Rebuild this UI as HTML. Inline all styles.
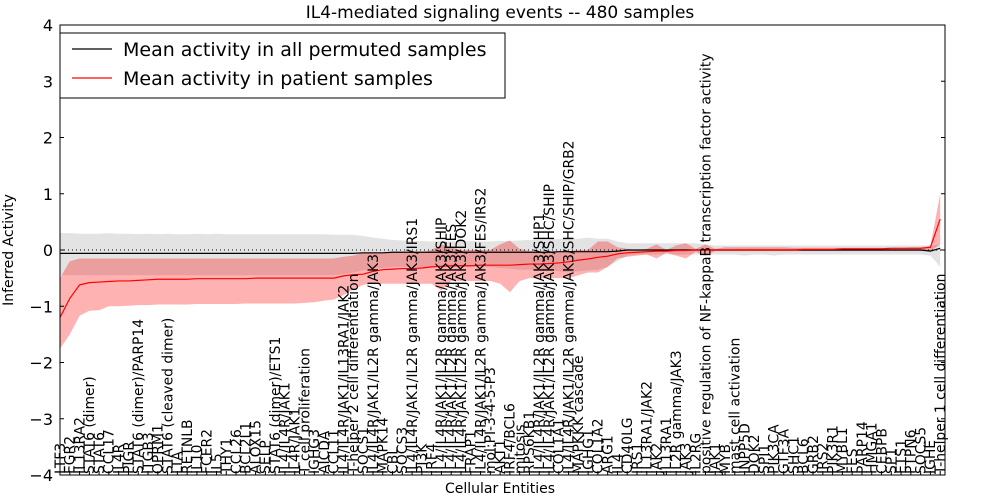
<!DOCTYPE html>
<html><head><meta charset="utf-8">
<style>
html,body{margin:0;padding:0;background:#fff;}
svg{display:block;font-family:"DejaVu Sans","Liberation Sans",sans-serif;}
</style></head>
<body>
<svg id="chart" width="1000" height="500" viewBox="0 0 1000 500" xmlns="http://www.w3.org/2000/svg">
<text x="500" y="18" text-anchor="middle" font-size="17">IL4-mediated signaling events -- 480 samples</text>
<text transform="translate(13,250) rotate(-90)" text-anchor="middle" font-size="14">Inferred Activity</text>
<text x="500" y="493" text-anchor="middle" font-size="14">Cellular Entities</text>
<g id="bands"></g>
<g id="lines"></g>
<g id="yaxis"></g>
<g id="xlabels"></g>
<rect x="60" y="25" width="885" height="450" fill="none" stroke="#000" stroke-width="1"/>
<g>
<rect x="60" y="33" width="445" height="65" fill="#fff" stroke="#000" stroke-width="1"/>
<line x1="72" y1="49" x2="112" y2="49" stroke="#000" stroke-width="1.2"/>
<text x="123" y="56" font-size="19">Mean activity in all permuted samples</text>
<line x1="72" y1="78" x2="112" y2="78" stroke="#f00" stroke-width="1.2"/>
<text x="123" y="85" font-size="19">Mean activity in patient samples</text>
</g>
</svg>
<script>
const categories = ["LTF3","EGR2","IL13RA2","STAT6 (dimer)","STAT6","CCL17","IL4R","PIGR","STAT6 (dimer)/PARP14","ITGB3","OPRM1","STAT6 (cleaved dimer)","LTA","RETNLB","IL10","FCER2","IL5","THY1","CCL26","BCL2L1","ALOX15","SELP","STAT6 (dimer)/ETS1","IL4/IL4R/JAK1","IL4R/JAK1","T cell proliferation","IGHG3","AICDA","CCL11","IL4/IL4R/JAK1/IL13RA1/JAK2","T-helper 2 cell differentiation","SOCS1","IL4/IL4R/JAK1/IL2R gamma/JAK3","MAPK14","CBL","SOCS3","IL4/IL4R/JAK1/IL2R gamma/JAK3/IRS1","PI3K","IRF4","IL4/IL4R/JAK1/IL2R gamma/JAK3/SHIP","IL4/IL4R/JAK1/IL2R gamma/JAK3/FES","IL4/IL4R/JAK1/IL2R gamma/JAK3/DOK2","FRAP1","IL4/IL4R/JAK1/IL2R gamma/JAK3/FES/IRS2","mol:PI-3-4-5-P3","AKT1","IRF4/BCL6","mitosis","RPS6KB1","IL4/IL4R/JAK1/IL2R gamma/JAK3/SHP1","IL4/IL4R/JAK1/IL2R gamma/JAK3/SHC/SHIP","COL1A1","IL4/IL4R/JAK1/IL2R gamma/JAK3/SHC/SHIP/GRB2","MAPKKK cascade","IGHG1","COL1A2","ARG1","IL4","CD40LG","IRS1","IL13RA1/JAK2","JAK2","IL13RA1","IL2R gamma/JAK3","JAK3","IL2RG","positive regulation of NF-kappaB transcription factor activity","JAK1","MYB","mast cell activation","INPP5D","DOK2","SPI1","PIK3CA","GTF3A","SHC1","BCL6","GRB2","IRS2","PIK3R1","MYBL1","FES","PARP14","HMGA1","CEBPB","SP1","ETS1","PTPN6","SOCS5","IGHE","T-helper 1 cell differentiation"];
const patientMean = [-1.2,-0.86,-0.62,-0.58,-0.57,-0.56,-0.55,-0.55,-0.54,-0.53,-0.52,-0.52,-0.52,-0.52,-0.51,-0.51,-0.51,-0.51,-0.51,-0.51,-0.5,-0.5,-0.5,-0.5,-0.5,-0.5,-0.5,-0.5,-0.5,-0.46,-0.44,-0.43,-0.38,-0.35,-0.34,-0.33,-0.33,-0.32,-0.3,-0.29,-0.28,-0.28,-0.28,-0.27,-0.27,-0.27,-0.27,-0.26,-0.25,-0.25,-0.24,-0.23,-0.21,-0.18,-0.16,-0.13,-0.11,-0.07,-0.05,-0.04,-0.03,-0.02,-0.02,-0.01,-0.01,0,0,0,0,0,0,0,0,0,0,0,0.01,0.01,0.01,0.01,0.02,0.02,0.02,0.02,0.02,0.03,0.03,0.03,0.03,0.05,0.55];
const patientUpper = [-0.5,-0.2,-0.15,-0.15,-0.15,-0.15,-0.15,-0.15,-0.15,-0.15,-0.15,-0.15,-0.15,-0.15,-0.15,-0.15,-0.15,-0.15,-0.15,-0.15,-0.15,-0.15,-0.15,-0.15,-0.15,-0.15,-0.15,-0.15,-0.15,-0.12,-0.1,-0.05,-0.05,-0.05,-0.05,-0.05,-0.05,-0.05,0.0,0.1,0.05,0.0,0.0,0.0,0.0,0.1,0.17,0.02,-0.02,-0.03,-0.03,-0.03,-0.02,0.0,0.0,0.15,0.15,0.05,0.02,0.0,0.02,0.1,0.0,0.08,0.12,0.02,0.1,0.02,0.05,0.05,0.05,0.05,0.05,0.05,0.05,0.04,0.04,0.04,0.04,0.04,0.04,0.04,0.04,0.04,0.04,0.04,0.04,0.05,0.05,0.07,1.0];
const patientLower = [-1.75,-1.5,-1.17,-1.08,-1.07,-1.0,-1.0,-0.99,-0.98,-0.98,-0.97,-0.97,-0.97,-0.97,-0.96,-0.96,-0.96,-0.96,-0.96,-0.95,-0.95,-0.95,-0.95,-0.95,-0.95,-0.94,-0.93,-0.9,-0.88,-0.8,-0.7,-0.62,-0.6,-0.6,-0.6,-0.6,-0.6,-0.6,-0.6,-0.72,-0.55,-0.55,-0.55,-0.55,-0.55,-0.6,-0.75,-0.55,-0.5,-0.5,-0.5,-0.5,-0.5,-0.45,-0.4,-0.4,-0.3,-0.15,-0.12,-0.1,-0.08,-0.15,-0.05,-0.1,-0.15,-0.03,-0.1,-0.02,-0.02,-0.02,-0.02,-0.02,-0.02,-0.02,-0.02,-0.02,-0.02,-0.02,-0.02,-0.02,-0.02,-0.02,-0.02,-0.02,-0.02,-0.02,-0.02,-0.02,-0.02,-0.02,0.1];
const permMean = [-0.06,-0.06,-0.06,-0.06,-0.06,-0.06,-0.06,-0.06,-0.06,-0.06,-0.06,-0.06,-0.06,-0.06,-0.06,-0.06,-0.06,-0.06,-0.06,-0.06,-0.06,-0.06,-0.06,-0.06,-0.06,-0.06,-0.06,-0.06,-0.06,-0.06,-0.06,-0.05,-0.05,-0.05,-0.04,-0.04,-0.04,-0.04,-0.04,-0.04,-0.04,-0.04,-0.04,-0.04,-0.04,-0.04,-0.04,-0.04,-0.04,-0.04,-0.04,-0.03,-0.03,-0.03,-0.03,-0.03,-0.03,-0.02,0,0,0,0,0,0,0,0,0,0,0,0,0,0,0,0,0,0,0,0,0,0,0,0,0,0,0,0,0,0,0,-0.02,0.03];
const permUpper = [0.3,0.3,0.29,0.29,0.29,0.3,0.29,0.29,0.28,0.29,0.28,0.29,0.28,0.28,0.29,0.28,0.29,0.28,0.28,0.28,0.28,0.28,0.28,0.28,0.28,0.28,0.28,0.28,0.27,0.27,0.27,0.25,0.22,0.2,0.18,0.17,0.16,0.16,0.15,0.16,0.15,0.15,0.16,0.15,0.15,0.16,0.16,0.17,0.18,0.18,0.18,0.2,0.2,0.2,0.22,0.2,0.2,0.15,0.12,0.12,0.12,0.12,0.12,0.12,0.12,0.12,0.1,0.08,0.08,0.08,0.08,0.08,0.08,0.08,0.08,0.08,0.08,0.08,0.08,0.08,0.08,0.08,0.08,0.08,0.08,0.08,0.08,0.08,0.08,0.08,0.1];
const permLower = [-0.45,-0.45,-0.45,-0.45,-0.45,-0.45,-0.45,-0.45,-0.45,-0.45,-0.45,-0.45,-0.45,-0.45,-0.45,-0.45,-0.45,-0.45,-0.45,-0.45,-0.45,-0.45,-0.45,-0.45,-0.45,-0.45,-0.45,-0.45,-0.45,-0.43,-0.4,-0.36,-0.33,-0.32,-0.3,-0.3,-0.3,-0.3,-0.3,-0.3,-0.3,-0.3,-0.3,-0.3,-0.3,-0.32,-0.33,-0.35,-0.35,-0.35,-0.36,-0.38,-0.4,-0.38,-0.36,-0.35,-0.3,-0.2,-0.1,-0.08,-0.08,-0.08,-0.08,-0.08,-0.08,-0.08,-0.08,-0.08,-0.08,-0.08,-0.1,-0.08,-0.08,-0.1,-0.08,-0.08,-0.08,-0.08,-0.08,-0.08,-0.08,-0.08,-0.08,-0.08,-0.08,-0.08,-0.08,-0.08,-0.08,-0.1,-0.3];
const yTicks = [-4,-3,-2,-1,0,1,2,3,4];

const NS = "http://www.w3.org/2000/svg";
const X0 = 60, STEP = 9.78, Y0 = 250, YS = 56.25;
function xs(i){ return X0 + i*STEP; }
function ys(v){ return Y0 - v*YS; }
function mk(tag, attrs, parent){ const e=document.createElementNS(NS,tag); for(const k in attrs) e.setAttribute(k, attrs[k]); parent.appendChild(e); return e; }

const bands = document.getElementById('bands');
const lines = document.getElementById('lines');
function bandPath(up, lo){
  let d = "";
  up.forEach((v,i)=>{ d += (i?"L":"M") + xs(i).toFixed(2) + "," + ys(v).toFixed(2); });
  for(let i=lo.length-1;i>=0;i--) d += "L" + xs(i).toFixed(2) + "," + ys(lo[i]).toFixed(2);
  return d + "Z";
}
function linePath(arr){ return arr.map((v,i)=>(i?"L":"M")+xs(i).toFixed(2)+","+ys(v).toFixed(2)).join(""); }

const gb = mk('path', {d: bandPath(permUpper, permLower), fill: 'rgba(128,128,128,0.22)', stroke: 'none'}, bands);


const rb = mk('path', {d: bandPath(patientUpper, patientLower), fill: 'rgba(255,0,0,0.3)', stroke: 'none'}, bands);


const zl = mk('line', {x1: X0, x2: 945, y1: ys(0), y2: ys(0), stroke: '#000', 'stroke-width': 1, 'stroke-dasharray': '1,3'}, lines);


const bl = mk('path', {d: linePath(permMean), fill: 'none', stroke: '#000', 'stroke-width': 1.2}, lines);


const rl = mk('path', {d: linePath(patientMean), fill: 'none', stroke: '#f00', 'stroke-width': 1.2}, lines);



const ya = document.getElementById('yaxis');
yTicks.forEach(t=>{
  const y = ys(t);
  const l1 = mk('line', {x1: 60, x2: 64, y1: y, y2: y, stroke: '#000'}, ya);
  
  
  const l2 = mk('line', {x1: 941, x2: 945, y1: y, y2: y, stroke: '#000'}, ya);
  
  
  const tx = mk('text', {x: 53, y: y+6, 'text-anchor': 'end', 'font-size': 16}, ya);
  
  
  tx.textContent = (t<0 ? "\u2212" + (-t) : String(t));
});

const xl = document.getElementById('xlabels');
categories.forEach((c,i)=>{
  const x = xs(i);
  const tk = mk('line', {x1: x, x2: x, y1: 475, y2: 471, stroke: '#000'}, xl);
  
  
  const tx = mk('text', {transform: 'translate(' + (x+4.8).toFixed(2) + ',474) rotate(-90)', 'font-size': 13.9}, xl);
  
  
  tx.textContent = c;
});
</script>
</body></html>
